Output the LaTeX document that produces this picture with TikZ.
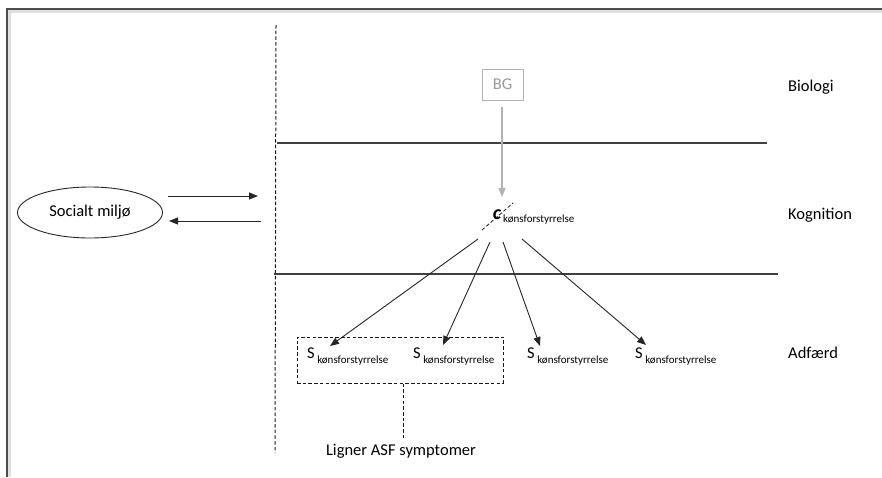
\documentclass[tikz,border=0pt]{standalone}
\usepackage{fontspec}
\setmainfont{Carlito}
\usetikzlibrary{arrows.meta,shapes.geometric}

\tikzset{
  lbl/.style={font=\fontsize{16.5}{19}\selectfont, inner sep=0pt},
  sublbl/.style={font=\fontsize{11}{12}\selectfont},
  level/.style={draw=black!75, line width=1.2pt},
  guide/.style={draw=black!90, line width=1pt, dash pattern=on 3.5pt off 2.2pt},
  arr/.style={draw=black!85, line width=0.9pt, -{Triangle[length=9pt,width=7pt]}},
  garr/.style={draw=black!30, line width=1.4pt, -{Triangle[length=9pt,width=7pt]}},
  snode/.style={lbl, anchor=base west}
}

\newcommand{\sk}{S\hspace{2.5pt}\raisebox{-5pt}{\fontsize{11}{12}\selectfont kønsforstyrrelse}}

\begin{document}
\begin{tikzpicture}[x=1pt,y=-1pt]
\useasboundingbox (0,0) rectangle (882,477);
\fill[white] (0,0) rectangle (882,477);

% page frame with a soft shadow
\draw[black!12, line width=3pt] (9,477) -- (9,11) -- (882,11);
\draw[black!70, line width=1.4pt] (7,477) -- (7,9) -- (882,9);

% vertical divider
\coordinate (vtop) at (276,25);
\coordinate (vbot) at (275,453);
\draw[guide] (vtop) -- (vbot);

% level separators
\coordinate (l1a) at (277,143);
\coordinate (l1b) at (767,143);
\coordinate (l2a) at (274,274);
\coordinate (l2b) at (778,274);
\draw[level] (l1a) -- (l1b);
\draw[level] (l2a) -- (l2b);

% level names
\node[lbl, anchor=west] (bio) at (788,87) {Biologi};
\node[lbl, anchor=west] (kog) at (788,215) {Kognition};
\node[lbl, anchor=west] (adf) at (788,353) {Adfærd};

% social environment and its exchange with the individual
\node[draw=black!85, line width=0.9pt, ellipse, minimum width=145pt, minimum height=51pt, inner sep=0pt, lbl] (miljo) at (90,212.5) {Socialt miljø};
\coordinate (m1) at (168,196);
\coordinate (m2) at (169,221);
\coordinate (inA) at (258,196);
\coordinate (outA) at (261,221);
\draw[arr] (m1) -- (inA);
\draw[arr] (outA) -- (m2);

% biology node
\node[draw=black!30, line width=1pt, minimum width=41pt, minimum height=31pt, inner sep=0pt, lbl, text=black!40] (bg) at (502.5,84.5) {BG};
\coordinate (bgs) at (502,107);
\coordinate (cin) at (502,197);
\draw[garr] (bgs) -- (cin);

% cognition node
\node[lbl, anchor=base] (c) at (497,219) {\fontsize{20}{22}\selectfont\itshape\bfseries c};
\node[sublbl, anchor=base west, inner sep=0pt] (csub) at (503,222) {kønsforstyrrelse};
\coordinate (cd1) at (482,230);
\coordinate (cd2) at (513,203);
\draw[guide, line width=0.8pt] (cd1) -- (cd2);

% behaviour nodes
\node[snode] (s1) at (307,358) {\sk};
\node[snode] (s2) at (413,358) {\sk};
\node[snode] (s3) at (527,358) {\sk};
\node[snode] (s4) at (635,358) {\sk};

\coordinate (c1) at (478,239);
\coordinate (c2) at (490,242);
\coordinate (c3) at (503,242);
\coordinate (c4) at (522,239);
\coordinate (t1) at (330,346);
\coordinate (t2) at (443,345);
\coordinate (t3) at (540,346);
\coordinate (t4) at (646,345);
\draw[arr] (c1) -- (t1);
\draw[arr] (c2) -- (t2);
\draw[arr] (c3) -- (t3);
\draw[arr] (c4) -- (t4);

% grouping of the first two behaviours
\node[guide, minimum width=206pt, minimum height=46pt, inner sep=0pt] (grp) at (400,360) {};
\node[lbl, anchor=base] (asf) at (401,455) {Ligner ASF symptomer};
\coordinate (asftop) at (403,438);
\draw[guide] (grp.south -| asftop) -- (asftop);
\end{tikzpicture}
\end{document}
